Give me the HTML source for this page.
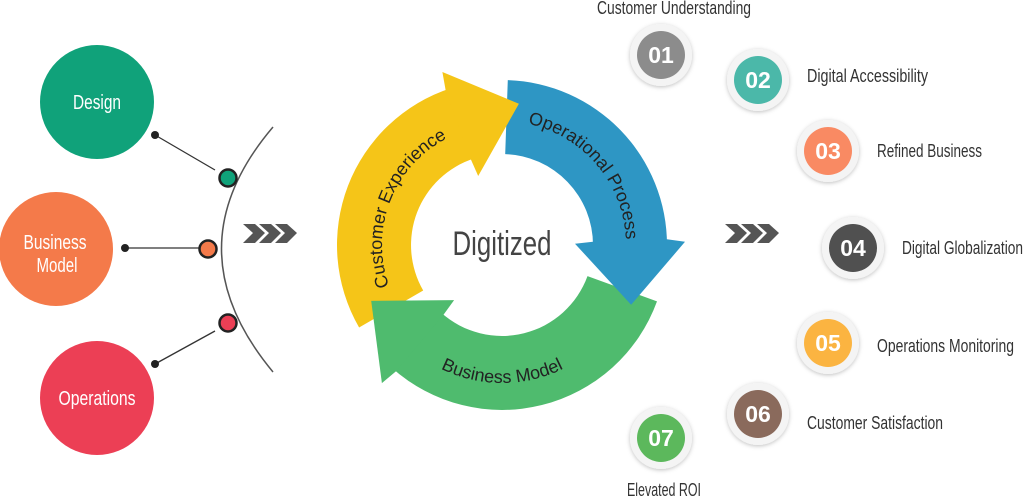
<!DOCTYPE html>
<html><head><meta charset="utf-8"><style>
html,body{margin:0;padding:0;background:#fff;}
body{width:1024px;height:499px;overflow:hidden;position:relative;font-family:"Liberation Sans",sans-serif;}
svg{position:absolute;left:0;top:0;}
</style></head><body>
<svg id="s" width="1024" height="499" viewBox="0 0 1024 499" xmlns="http://www.w3.org/2000/svg">
<defs>
<filter id="sh" x="-30%" y="-30%" width="160%" height="160%"><feDropShadow dx="0" dy="1" stdDeviation="2" flood-color="#000" flood-opacity="0.25"/></filter>
</defs>
<path d="M273,127 Q170,248 273,372" fill="none" stroke="#555" stroke-width="1.5"/>
<line x1="155" y1="135" x2="215" y2="170" stroke="#333" stroke-width="1.3"/>
<line x1="125" y1="248" x2="200" y2="248" stroke="#333" stroke-width="1.3"/>
<line x1="155" y1="364" x2="215" y2="331" stroke="#333" stroke-width="1.3"/>
<circle cx="155" cy="135" r="4" fill="#222"/>
<circle cx="125" cy="248" r="4" fill="#222"/>
<circle cx="155" cy="364" r="4" fill="#222"/>
<circle cx="228" cy="178" r="8.5" fill="#10a27a" stroke="#222" stroke-width="2.5"/>
<circle cx="208" cy="249" r="8.5" fill="#f47a4a" stroke="#222" stroke-width="2.5"/>
<circle cx="228" cy="323" r="8.5" fill="#ec3f55" stroke="#222" stroke-width="2.5"/>
<circle cx="97" cy="102" r="57" fill="#10a27a"/>
<circle cx="56" cy="249" r="57" fill="#f47a4a"/>
<circle cx="97" cy="398" r="57" fill="#ec3f55"/>
<g fill="#fff" font-size="20" text-anchor="middle">
<text x="97" y="109" textLength="48" lengthAdjust="spacingAndGlyphs">Design</text>
<text x="55" y="249" textLength="63" lengthAdjust="spacingAndGlyphs">Business</text>
<text x="57" y="272" textLength="41" lengthAdjust="spacingAndGlyphs">Model</text>
<text x="97" y="405" textLength="77" lengthAdjust="spacingAndGlyphs">Operations</text>
</g>
<g fill="#555">
<polygon points="243,224 255,224 265,233 255,243 243,243 253,233"/>
<polygon points="259,224 271,224 281,233 271,243 259,243 269,233"/>
<polygon points="275,224 287,224 297,233 287,243 275,243 285,233"/>
<polygon points="725,224 737,224 747,233 737,243 725,243 735,233"/>
<polygon points="741,224 753,224 763,233 753,243 741,243 751,233"/>
<polygon points="757,224 769,224 779,233 769,243 757,243 767,233"/>
</g>
<g id="cyc"></g>
<text x="502" y="255" text-anchor="middle" font-size="34" fill="#444" textLength="99" lengthAdjust="spacingAndGlyphs">Digitized</text>
<g filter="url(#sh)" fill="#f4f4f4">
<circle cx="661" cy="55" r="31"/><circle cx="758" cy="80" r="31"/><circle cx="828" cy="151" r="31"/><circle cx="853" cy="248" r="31"/><circle cx="828" cy="343" r="31"/><circle cx="758" cy="414" r="31"/><circle cx="661" cy="438" r="31"/>
</g>
<circle cx="661" cy="55" r="24" fill="#8c8c8c"/>
<circle cx="758" cy="80" r="24" fill="#4bb8a9"/>
<circle cx="828" cy="151" r="24" fill="#f98a63"/>
<circle cx="853" cy="248" r="24" fill="#505050"/>
<circle cx="828" cy="343" r="24" fill="#fbb441"/>
<circle cx="758" cy="414" r="24" fill="#8a6a5c"/>
<circle cx="661" cy="438" r="24" fill="#5cb85c"/>
<g fill="#fff" font-size="23" font-weight="bold" text-anchor="middle">
<text x="661" y="63">01</text><text x="758" y="88">02</text><text x="828" y="159">03</text><text x="853" y="256">04</text><text x="828" y="351">05</text><text x="758" y="422">06</text><text x="661" y="446">07</text>
</g>
<g fill="#333" font-size="18">
<text x="597" y="14" textLength="154" lengthAdjust="spacingAndGlyphs">Customer Understanding</text>
<text x="807" y="82" textLength="121" lengthAdjust="spacingAndGlyphs">Digital Accessibility</text>
<text x="877" y="157" textLength="105" lengthAdjust="spacingAndGlyphs">Refined Business</text>
<text x="902" y="254" textLength="121" lengthAdjust="spacingAndGlyphs">Digital Globalization</text>
<text x="877" y="352" textLength="137" lengthAdjust="spacingAndGlyphs">Operations Monitoring</text>
<text x="807" y="429" textLength="136" lengthAdjust="spacingAndGlyphs">Customer Satisfaction</text>
<text x="627" y="496" textLength="74" lengthAdjust="spacingAndGlyphs">Elevated ROI</text>
</g>
</svg>
<script>
(function(){
var cx=502,cy=245,rin=91,rout=165,rm=128;
function pt(r,a){a=a*Math.PI/180;return [cx+r*Math.cos(a),cy+r*Math.sin(a)];}
function S(p){return p[0].toFixed(1)+','+p[1].toFixed(1);}
function P(r,a){return S(pt(r,a));}
function band(a0,a1){return 'M'+P(rout,a0)+' A'+rout+','+rout+' 0 0 1 '+P(rout,a1)+' L'+P(rin,a1)+' A'+rin+','+rin+' 0 0 0 '+P(rin,a0)+' Z';}
function head(a1,L,w){
  var ar=a1*Math.PI/180, t=[-Math.sin(ar),Math.cos(ar)];
  var c=pt(rm,a1), tip=[c[0]+t[0]*L,c[1]+t[1]*L];
  var o=pt(rout+w,a1), i=pt(rin-w,a1);
  return 'M'+S(o)+' L'+S(tip)+' L'+S(i)+' L'+P(rin,a1-1)+' L'+P(rout,a1-1)+' Z';
}
var g=document.getElementById('cyc'),h='';
h+='<path d="'+band(150,252)+'" fill="#f5c518"/>';
h+='<path d="'+band(272,360)+'" fill="#2e96c4"/>';
h+='<path d="'+band(20,132)+'" fill="#4fbb6e"/>';
h+='<path d="'+head(251,62,18)+'" fill="#f5c518"/>';
h+='<path d="'+head(359,62,18)+'" fill="#2e96c4"/>';
h+='<path d="'+head(131,62,18)+'" fill="#4fbb6e"/>';
h+='<path id="t1" d="M'+P(120,160)+' A120,120 0 0 1 '+P(120,250)+'" fill="none"/>';
h+='<path id="t2" d="M'+P(124,282)+' A124,124 0 0 1 '+P(124,365)+'" fill="none"/>';
h+='<path id="t3" d="M'+P(138,118)+' A138,138 0 0 0 '+P(138,45)+'" fill="none"/>';
var f='font-family="Liberation Sans, sans-serif" font-size="18" fill="#222"';
h+='<text '+f+'><textPath href="#t1">Customer Experience</textPath></text>';
h+='<text '+f+'><textPath href="#t2">Operational Process</textPath></text>';
h+='<text '+f+'><textPath href="#t3" startOffset="4">Business Model</textPath></text>';
g.innerHTML=h;
})();
</script>
</body></html>
